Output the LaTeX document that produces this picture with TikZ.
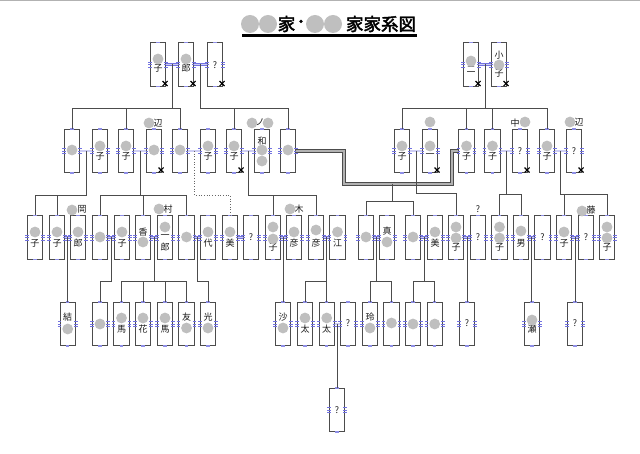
\documentclass[tikz,border=0pt]{standalone}
\usepackage{fontspec}
\newfontfamily\cjk{Noto Sans CJK JP}
\newfontfamily\cjkt[FakeBold=2.5]{Noto Sans CJK JP}
\usetikzlibrary{calc}
\definecolor{mkb}{RGB}{115,115,225}
\newcounter{tc}
\tikzset{
 pbox/.style={draw=black!70, line width=0.6pt, fill=white, minimum width=15.5pt, minimum height=43.5pt, inner sep=0pt},
 conn/.style={draw=black!70, line width=0.7pt},
 dotc/.style={draw=black!60, line width=0.7pt, dotted},
 wed/.style={draw=mkb, line width=0.5pt, double=mkb!35, double distance=1.4pt},
 dbl/.style={draw=black!70, line width=0.8pt, double=black!30, double distance=1.6pt},
 lbl/.style={inner sep=0pt, font=\cjk\fontsize{9}{9}\selectfont, text=black!90},
 ttl/.style={inner sep=0pt, font=\cjkt\fontsize{17.5}{17.5}\selectfont},
 xmk/.style={draw=black, line width=1.1pt},
}
\newcommand\ppers[3]{%
 \node[pbox] (#1) at (#2,#3) {};
 \fill[mkb!80] ([shift={(-1.6pt,-0.9pt)}]#1.north) rectangle ([shift={(1.6pt,0.9pt)}]#1.north);
 \fill[mkb!80] ([shift={(-1.6pt,-0.9pt)}]#1.south) rectangle ([shift={(1.6pt,0.9pt)}]#1.south);
 \foreach \dy in {-2.4,0,2.4}{%
  \draw[mkb,line width=0.5pt] ([shift={(-1.8pt,\dy pt)}]#1.east) -- ([shift={(1.8pt,\dy pt)}]#1.east);
  \draw[mkb,line width=0.5pt] ([shift={(-1.8pt,\dy pt)}]#1.west) -- ([shift={(1.8pt,\dy pt)}]#1.west);}%
}
\newcommand\ptx[3]{\stepcounter{tc}\node[lbl] (t\arabic{tc}) at (#1,#2) {#3};}
\newcommand\pgc[2]{\fill[gray!50] (#1,#2) circle (5.4pt);}
\newcommand\pxm[1]{\draw[xmk] ($(#1.south east)+(-3.5,-5.5)$) -- ++(5,5) ($(#1.south east)+(-3.5,-0.5)$) -- ++(5,-5);}
\newcommand\pwed[3]{\draw[wed] (#1.east) -- (#2.west); \coordinate (#3) at ($(#1.east)!0.5!(#2.west)$);}
\begin{document}
\begin{tikzpicture}[x=1pt,y=-1pt]
\useasboundingbox (0,0) rectangle (640,454);
\draw[gray!60, line width=1pt] (0,0.5) -- (640,0.5);
% ---------- title ----------
\node[ttl] (ti1) at (286.5,24) {家};
\node[ttl] (ti2) at (301,24) {･};
\node[ttl] (ti3) at (381,24) {家家系図};
\draw[line width=2.6pt] (242,35.5) -- (417,35.5);
\fill[gray!50] (250,24) circle (9pt) (268,24) circle (9pt) (315,24) circle (9pt) (333,24) circle (9pt);
% ---------- persons ----------
\foreach \n/\x in {A1/158,A2/186,A3/215,A4/471,A5/499}{\ppers{\n}{\x}{64.5}}
\foreach \n/\x in {B1/72,B2/100,B3/126,B4/154,B5/180,B6/208,B7/234,B8/262,B9/288,B10/402,B11/430,B12/466.5,B13/492.5,B14/520,B15/547,B16/574}{\ppers{\n}{\x}{151}}
\foreach \n/\x in {C1/35,C2/57,C3/78,C4/100,C5/122,C6/143,C7/165,C8/186.5,C9/208,C10/230,C11/251,C12/273,C13/294,C14/316,C15/337.5,C16/366,C17/387,C18/413,C19/435,C20/456,C21/478,C22/499.5,C23/521,C24/542.5,C25/564,C26/586,C27/607}{\ppers{\n}{\x}{237.5}}
\foreach \n/\x in {D1/67.7,D2/100,D3/121.5,D4/143,D5/165,D6/186.5,D7/208,D8/283,D9/305,D10/326.7,D11/348,D12/370,D13/391.5,D14/413,D15/434.7,D16/467,D17/532,D18/575}{\ppers{\n}{\x}{324}}
\ppers{E1}{337}{410}
% ---------- marriages ----------
\pwed{A1}{A2}{mA12} \pwed{A2}{A3}{mA23} \pwed{A4}{A5}{mA45}
\pwed{B1}{B2}{mB12} \pwed{B3}{B4}{mB34} \pwed{B5}{B6}{mB56} \pwed{B7}{B8}{mB78}
\pwed{B10}{B11}{mB1011} \pwed{B13}{B14}{mB1314} \pwed{B15}{B16}{mB1516}
\pwed{C2}{C3}{mC23} \pwed{C4}{C5}{mC45} \pwed{C6}{C7}{mC67} \pwed{C8}{C9}{mC89}
\pwed{C10}{C11}{mC1011} \pwed{C12}{C13}{mC1213} \pwed{C14}{C15}{mC1415}
\pwed{C16}{C17}{mC1617} \pwed{C18}{C19}{mC1819} \pwed{C20}{C21}{mC2021}
\pwed{C23}{C24}{mC2324} \pwed{C25}{C26}{mC2526}
\pwed{D10}{D11}{mD1011}
% level coordinates
\coordinate (h1) at (0,108);
\coordinate (h2) at (0,195);
\coordinate (h2a) at (0,201);
\coordinate (h2b) at (0,193.5);
\coordinate (h2c) at (0,194.3);
\coordinate (h3) at (0,281);
% double marriage line B9 = B12
\coordinate (dA) at (344,184);
\coordinate (dB) at (452,184);
\coordinate (mB912) at (392,184);
\draw[dbl] (B9.east) -| (dA) -- (dB) |- (B12.west);
% ---------- descent lines ----------
\foreach \c in {B1,B3,B5}{\draw[conn] (mA12) -- (mA12 |- h1) -| (\c.north);}
\foreach \c in {B7,B9}{\draw[conn] (mA23) -- (mA23 |- h1) -| (\c.north);}
\foreach \c in {B10,B12,B13,B15}{\draw[conn] (mA45) -- (mA45 |- h1) -| (\c.north);}
\foreach \c in {C1,C2}{\draw[conn] (mB12) -- (mB12 |- h2) -| (\c.north);}
\foreach \c in {C4,C6,C8}{\draw[conn] (mB34) -- (mB34 |- h2) -| (\c.north);}
\draw[dotc] (mB56) -- (mB56 |- h2) -| (C10.north);
\foreach \c in {C12,C14}{\draw[conn] (mB78) -- (mB78 |- h2) -| (\c.north);}
\foreach \c in {C16,C18}{\draw[conn] (mB912) -- (mB912 |- h2a) -| (\c.north);}
\draw[conn] (mB1011) -- (mB1011 |- h2b) -| (C20.north);
\foreach \c in {C22,C23}{\draw[conn] (mB1314) -- (mB1314 |- h2c) -| (\c.north);}
\foreach \c in {C25,C27}{\draw[conn] (mB1516) -- (mB1516 |- h2c) -| (\c.north);}
\draw[conn] (mC23) -- (mC23 |- D1.north);
\draw[conn] (mC45) -- (mC45 |- h3) -| (D2.north);
\foreach \c in {D3,D4,D5,D6}{\draw[conn] (mC67) -- (mC67 |- h3) -| (\c.north);}
\draw[conn] (mC89) -- (mC89 |- h3) -| (D7.north);
\draw[conn] (mC1213) -- (mC1213 |- D8.north);
\foreach \c in {D9,D10}{\draw[conn] (mC1415) -- (mC1415 |- h3) -| (\c.north);}
\foreach \c in {D12,D13}{\draw[conn] (mC1617) -- (mC1617 |- h3) -| (\c.north);}
\foreach \c in {D14,D15}{\draw[conn] (mC1819) -- (mC1819 |- h3) -| (\c.north);}
\draw[conn] (mC2021) -- (mC2021 |- D16.north);
\draw[conn] (mC2324) -- (mC2324 |- D17.north);
\draw[conn] (mC2526) -- (mC2526 |- D18.north);
\draw[conn] (mD1011) -- (mD1011 |- E1.north);
% ---------- texts ----------
\ptx{158}{68}{子} \ptx{186}{68}{郎} \ptx{215}{65}{?} \ptx{471}{69}{二} \ptx{499}{55}{小} \ptx{499}{73}{子}
\ptx{100}{156}{子} \ptx{126}{156}{子} \ptx{158}{123}{辺} \ptx{208}{156}{子} \ptx{234}{156}{子}
\ptx{262}{141}{和} \ptx{260}{122}{ノ}
\ptx{402}{156}{子} \ptx{430}{156}{一} \ptx{466.5}{156}{子} \ptx{492.5}{156}{子}
\ptx{520}{151}{?} \ptx{515}{123}{中} \ptx{547}{156}{子} \ptx{574}{151}{?} \ptx{579}{122}{辺}
\ptx{35}{243}{子} \ptx{57}{243}{子} \ptx{78}{243}{郎} \ptx{82}{209}{岡} \ptx{122}{243}{子}
\ptx{143}{232}{香} \ptx{165}{237}{一} \ptx{165}{247}{郎} \ptx{168}{209}{村}
\ptx{208}{243}{代} \ptx{230}{243}{美} \ptx{251}{237}{?} \ptx{273}{247}{子}
\ptx{294}{243}{彦} \ptx{299}{209}{木} \ptx{316}{243}{彦} \ptx{337.5}{243}{江}
\ptx{387}{231}{真} \ptx{435}{243}{美} \ptx{456}{247}{子} \ptx{478}{237}{?} \ptx{478}{209}{?}
\ptx{499.5}{247}{子} \ptx{521}{243}{男} \ptx{542.5}{237}{?} \ptx{564}{243}{子}
\ptx{586}{237}{?} \ptx{591}{210}{藤} \ptx{607}{247}{子}
\ptx{67.7}{317}{結} \ptx{121.5}{329}{馬} \ptx{143}{329}{花} \ptx{165}{329}{馬}
\ptx{186.5}{317}{友} \ptx{208}{317}{光} \ptx{283}{317}{沙} \ptx{305}{329}{太} \ptx{326.7}{329}{太}
\ptx{348}{323}{?} \ptx{370}{317}{玲} \ptx{467}{323}{?} \ptx{532}{329}{瀬} \ptx{575}{323}{?}
\ptx{337}{410}{?}
% ---------- redaction circles ----------
\pgc{158}{59} \pgc{186}{59} \pgc{471}{61} \pgc{499}{65}
\pgc{72}{150} \pgc{100}{146} \pgc{126}{146} \pgc{154}{150} \pgc{149}{123} \pgc{180}{150}
\pgc{208}{146} \pgc{234}{146} \pgc{262}{150} \pgc{262}{161} \pgc{252}{123} \pgc{268}{123}
\pgc{288}{150} \pgc{402}{146} \pgc{430}{146} \pgc{430}{122} \pgc{466.5}{146} \pgc{492.5}{146}
\pgc{525}{122} \pgc{547}{146} \pgc{570}{122}
\pgc{35}{232} \pgc{57}{232} \pgc{78}{232} \pgc{72}{210} \pgc{100}{237} \pgc{122}{232}
\pgc{143}{242} \pgc{165}{227} \pgc{159}{209} \pgc{186.5}{237} \pgc{208}{232} \pgc{230}{232}
\pgc{273}{227} \pgc{273}{239} \pgc{294}{232} \pgc{290}{209} \pgc{316}{230} \pgc{337.5}{232}
\pgc{366}{237} \pgc{387}{242} \pgc{413}{237} \pgc{435}{232} \pgc{456}{227} \pgc{456}{238}
\pgc{499.5}{227} \pgc{499.5}{238} \pgc{521}{231} \pgc{564}{232} \pgc{582}{211}
\pgc{607}{227} \pgc{607}{238}
\pgc{67.7}{329} \pgc{100}{324} \pgc{121.5}{318} \pgc{143}{318} \pgc{165}{318}
\pgc{186.5}{328} \pgc{208}{328} \pgc{283}{328} \pgc{305}{318} \pgc{326.7}{318}
\pgc{370}{328} \pgc{391.5}{323} \pgc{413}{324} \pgc{434.7}{324} \pgc{532}{320}
% ---------- deceased marks ----------
\foreach \n in {A1,A2,A3,A4,A5,B4,B7,B11,B14,B16}{\pxm{\n}}
\end{tikzpicture}
\end{document}
